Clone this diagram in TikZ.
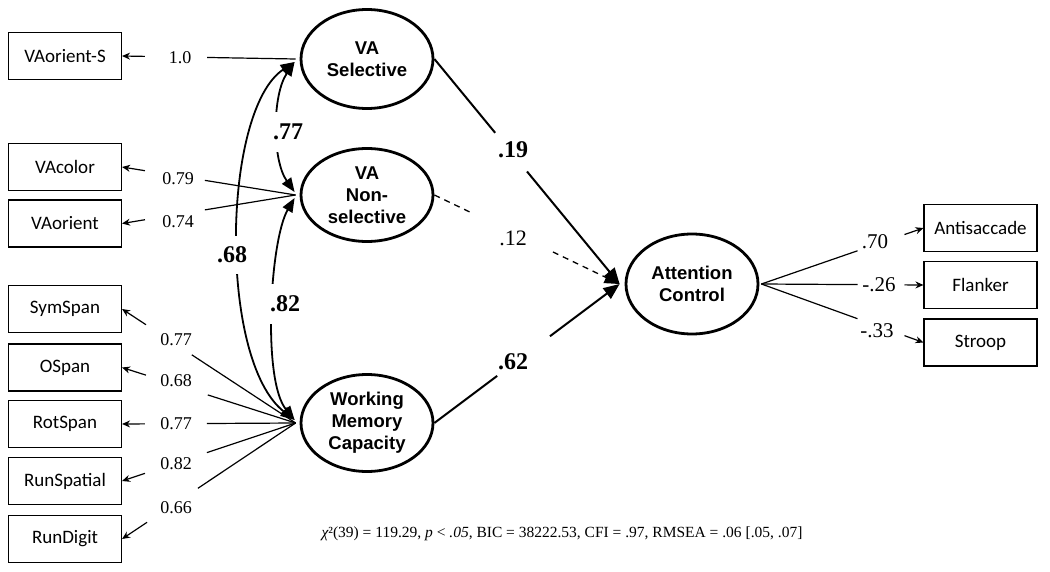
\documentclass[tikz,border=0pt]{standalone}
\usepackage{fontspec}
\setmainfont{Liberation Serif}
\newfontfamily\boxfont{Carlito}
\newfontfamily\latfont{Liberation Sans}
\usetikzlibrary{shapes.geometric,arrows.meta,calc}
\begin{document}
\begin{tikzpicture}[x=1pt,y=-1pt,
  obs/.style={draw,line width=1.1pt,minimum width=113pt,minimum height=47pt,inner sep=0pt,font=\boxfont\fontsize{19}{21}\selectfont},
  lat/.style={draw,ellipse,line width=2.8pt,minimum width=132pt,minimum height=98pt,inner sep=0pt,align=center,font=\latfont\bfseries\fontsize{18.5}{22}\selectfont},
  ld/.style={line width=1.2pt},
  ldarr/.style={line width=1.2pt,-{Stealth[length=8pt,width=7pt]}},
  sp/.style={line width=2pt},
  sparr/.style={line width=2pt,-{Triangle[length=16pt,width=13pt]}},
  dsp/.style={line width=1.3pt,dash pattern=on 6pt off 5pt},
  dsparr/.style={line width=1.3pt,dash pattern=on 6pt off 5pt,-{Triangle[length=15pt,width=12pt]}},
  cov/.style={line width=1.8pt,{Triangle[length=14pt,width=11pt]}-{Triangle[length=14pt,width=11pt]}},
  wt/.style={font=\fontsize{18}{20}\selectfont,inner sep=0pt},
  wr/.style={font=\fontsize{21}{23}\selectfont,inner sep=0pt},
  bw/.style={font=\bfseries\fontsize{24}{26}\selectfont,inner sep=0pt},
  cl/.style={bw,fill=white,inner xsep=2pt,minimum height=40pt}
]
\useasboundingbox (0,0) rectangle (1050,572);

% observed indicators (left)
\node[obs] (o1) at (65,56) {VAorient-S};
\node[obs] (o2) at (65,167) {VAcolor};
\node[obs] (o3) at (65,223.5) {VAorient};
\node[obs] (o4) at (65,309) {SymSpan};
\node[obs] (o5) at (65,367.5) {OSpan};
\node[obs] (o6) at (65,424) {RotSpan};
\node[obs] (o7) at (65,481) {RunSpatial};
\node[obs] (o8) at (65,539) {RunDigit};

% observed indicators (right)
\node[obs] (r1) at (980.5,228) {Antisaccade};
\node[obs] (r2) at (980.5,285) {Flanker};
\node[obs] (r3) at (980.5,342.5) {Stroop};

% latent variables
\node[lat,minimum height=99pt] (VAS) at (367,59) {VA\\Selective};
\node[lat,minimum height=93pt] (VANS) at (367,195) {VA\\Non-\\selective};
\node[lat,minimum height=97pt] (WMC) at (367,423) {Working\\Memory\\Capacity};
\node[lat,minimum height=100pt] (AC) at (692,284) {Attention\\Control};

% connection points
\coordinate (vasL) at ($(VAS.west)+(-4,0)$);
\coordinate (vansL) at ($(VANS.west)+(-4,0)$);
\coordinate (wmcL) at ($(WMC.west)+(-4,0)$);
\coordinate (acR) at ($(AC.east)+(2,0)$);
\coordinate (acL) at ($(AC.west)+(-5,0)$);
\coordinate (vasC) at ($(VAS.west)+(-5,3)$);
\coordinate (vansCt) at ($(VANS.west)+(-5,-3)$);
\coordinate (vansCb) at ($(VANS.west)+(-5,3)$);
\coordinate (wmcC) at ($(WMC.west)+(-5,-3)$);

% loadings: VA Selective
\draw[ld] (vasL) -- ($(vasL)!0.51!(o1.east)$);
\draw[ldarr] ($(vasL)!0.868!(o1.east)$) -- (o1.east);
\node[wt] (w1) at (180,58) {1.0};

% loadings: VA Non-selective
\draw[ld] (vansL) -- ($(vansL)!0.523!(o2.east)$);
\draw[ldarr] ($(vansL)!0.868!(o2.east)$) -- (o2.east);
\node[wt] (w2) at (178,179) {0.79};
\draw[ld] (vansL) -- ($(vansL)!0.523!(o3.east)$);
\draw[ldarr] ($(vansL)!0.868!(o3.east)$) -- (o3.east);
\node[wt] (w3) at (178,222) {0.74};

% loadings: WMC
\draw[ld] (wmcL) -- ($(wmcL)!0.598!(o4.east)$);
\draw[ldarr] ($(wmcL)!0.862!(o4.east)$) -- (o4.east);
\node[wt] (w4) at (176,340) {0.77};
\draw[ld] (wmcL) -- ($(wmcL)!0.506!(o5.east)$);
\draw[ldarr] ($(wmcL)!0.862!(o5.east)$) -- (o5.east);
\node[wt] (w5) at (176,381) {0.68};
\draw[ld] (wmcL) -- ($(wmcL)!0.511!(o6.east)$);
\draw[ldarr] ($(wmcL)!0.868!(o6.east)$) -- (o6.east);
\node[wt] (w6) at (176,424) {0.77};
\draw[ld] (wmcL) -- ($(wmcL)!0.511!(o7.east)$);
\draw[ldarr] ($(wmcL)!0.868!(o7.east)$) -- (o7.east);
\node[wt] (w7) at (176,464) {0.82};
\draw[ld] (wmcL) -- ($(wmcL)!0.563!(o8.east)$);
\draw[ldarr] ($(wmcL)!0.856!(o8.east)$) -- (o8.east);
\node[wt] (w8) at (176,508) {0.66};

% loadings: Attention Control
\draw[ld] (acR) -- ($(acR)!0.593!(r1.west)$);
\draw[ldarr] ($(acR)!0.883!(r1.west)$) -- (r1.west);
\node[wr] (v1) at (875,242) {.70};
\draw[ld] (acR) -- ($(acR)!0.593!(r2.west)$);
\draw[ldarr] ($(acR)!0.883!(r2.west)$) -- (r2.west);
\node[wr] (v2) at (879,285) {-.26};
\draw[ld] (acR) -- ($(acR)!0.593!(r3.west)$);
\draw[ldarr] ($(acR)!0.883!(r3.west)$) -- (r3.west);
\node[wr] (v3) at (877,331) {-.33};

% structural paths
\draw[sp] (VAS.east) -- ($(VAS.east)!0.328!(acL)$);
\draw[sparr] ($(VAS.east)!0.5!(acL)$) -- (acL);
\node[bw] (p1) at (513,150) {.19};
\draw[dsp] (VANS.east) -- ($(VANS.east)!0.204!(acL)$);
\draw[dsparr] ($(VANS.east)!0.64!(acL)$) -- (acL);
\node[font=\fontsize{22}{24}\selectfont,inner sep=0pt] (p2) at (513,238) {.12};
\draw[sp] (WMC.east) -- ($(WMC.east)!0.339!(acL)$);
\draw[sparr] ($(WMC.east)!0.624!(acL)$) -- (acL);
\node[bw] (p3) at (513,362) {.62};

% covariances
\draw[cov] (vasC) .. controls (272,95) and (272,160) .. (vansCt);
\node[cl] (c1) at (288,132) {.77};
\draw[cov] (vasC) .. controls (222,110) and (218,360) .. (wmcC);
\node[cl,minimum height=38pt] (c2) at (232,255) {.68};
\draw[cov] (vansCb) .. controls (270,240) and (262,380) .. (wmcC);
\node[cl] (c3) at (285,304) {.82};

% fit statistics
\node[font=\fontsize{15.5}{18}\selectfont,inner sep=0pt] (fit) at (562,534)
  {{\itshape χ}²(39) = 119.29, {\itshape p} < {\itshape .05}, BIC = 38222.53, CFI = .97, RMSEA = .06 [.05, .07]};
\end{tikzpicture}
\end{document}
